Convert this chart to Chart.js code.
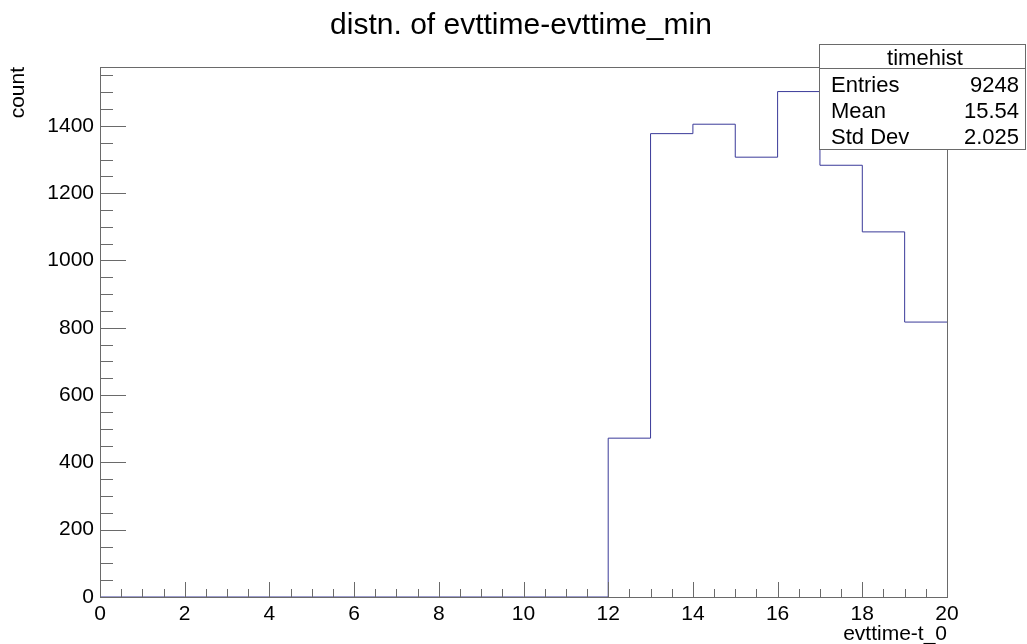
<!DOCTYPE html>
<html lang="en">
<head>
    <meta charset="UTF-8">
    <title>distn. of evttime-evttime_min</title>
    <script src="https://cdn.jsdelivr.net/npm/chart.js"></script>
    <style>
        html, body { margin: 0; padding: 0; background: #fff; }
        #wrap { width: 1027px; height: 644px; }
    </style>
</head>
<body>
    <div id="wrap"><canvas id="timehist" width="1027" height="644"></canvas></div>

    <script>
        // histogram data: bin low edges (width 1) and contents
        const binLow = [0, 1, 2, 3, 4, 5, 6, 7, 8, 9, 10, 11, 12, 13, 14, 15, 16, 17, 18, 19];
        const counts = [0, 0, 0, 0, 0, 0, 0, 0, 0, 0,   // 0-9
                        0, 0, 472, 1377, 1405, 1307, 1502, 1283, 1085, 817];   // 10-19
        const xMax = 20;
        const yMax = 1575;
        const statLabels = ['Entries', 'Mean', 'Std Dev'];
        const statValues = ['9248', '15.54', '2.025'];

        const FONT = '"Liberation Sans", Arial, sans-serif';
        const lineColor = '#3a3a99';

        // stepped outline points: each bin content holds from its low edge to the next edge
        const points = counts.map((c, i) => ({ x: binLow[i], y: c }));
        points.push({ x: xMax, y: counts[counts.length - 1] });

        // ROOT-style frame, inside ticks, title, axis titles and stats box
        const rootDecor = {
            id: 'rootDecor',
            afterDatasetsDraw(chart) {
                const ctx = chart.ctx;
                const a = chart.chartArea;
                const xs = chart.scales.x, ys = chart.scales.y;
                ctx.save();
                ctx.strokeStyle = '#6a6a6a';
                ctx.lineWidth = 1;

                // frame
                ctx.strokeRect(a.left + 0.5, a.top + 0.5, a.right - a.left, a.bottom - a.top);

                // y ticks
                ctx.beginPath();
                for (let v = 0; v <= ys.max; v += 50) {
                    const py = Math.round(ys.getPixelForValue(v)) + 0.5;
                    const len = v % 200 === 0 ? 26 : 13;
                    ctx.moveTo(a.left, py);
                    ctx.lineTo(a.left + len, py);
                }
                // x ticks
                for (let v = 0; v <= xs.max; v += 0.5) {
                    const px = Math.round(xs.getPixelForValue(v)) + 0.5;
                    const len = v % 2 === 0 ? 15 : 8;
                    ctx.moveTo(px, a.bottom);
                    ctx.lineTo(px, a.bottom - len);
                }
                ctx.stroke();

                ctx.fillStyle = '#000';
                ctx.textBaseline = 'alphabetic';
                // title
                ctx.font = '30px ' + FONT;
                ctx.textAlign = 'center';
                ctx.fillText('distn. of evttime-evttime_min', 521, 34);

                // axis titles
                ctx.font = '21px ' + FONT;
                ctx.textAlign = 'right';
                ctx.fillText('evttime-t_0', a.right, 640);
                ctx.save();
                ctx.translate(24, a.top);
                ctx.rotate(-Math.PI / 2);
                ctx.textAlign = 'right';
                ctx.fillText('count', 0, 0);
                ctx.restore();

                // stats box
                const bx = 819, by = 44, bw = 206, bh = 105;
                ctx.fillStyle = '#fff';
                ctx.fillRect(bx, by, bw, bh);
                ctx.strokeRect(bx + 0.5, by + 0.5, bw, bh);
                ctx.beginPath();
                ctx.moveTo(bx, a.top + 1.5);
                ctx.lineTo(bx + bw, a.top + 1.5);
                ctx.stroke();
                ctx.fillStyle = '#000';
                ctx.font = '22px ' + FONT;
                ctx.textAlign = 'center';
                ctx.fillText('timehist', bx + bw / 2 + 3, 65);
                const rowsY = [92, 118, 144];
                statLabels.forEach((l, i) => {
                    ctx.textAlign = 'left';
                    ctx.fillText(l, bx + 12, rowsY[i]);
                    ctx.textAlign = 'right';
                    ctx.fillText(statValues[i], bx + bw - 6, rowsY[i]);
                });
                ctx.restore();
            }
        };

        new Chart(document.getElementById('timehist'), {
            type: 'line',
            data: {
                datasets: [{
                    label: 'timehist',
                    data: points,
                    stepped: 'before',
                    borderColor: lineColor,
                    borderWidth: 1,
                    pointRadius: 0,
                    fill: false
                }]
            },
            options: {
                responsive: false,
                animation: false,
                layout: { padding: { left: 0, top: 67, right: 80, bottom: 0 } },
                plugins: {
                    legend: { display: false },
                    tooltip: { enabled: false },
                    title: { display: false }
                },
                scales: {
                    x: {
                        type: 'linear',
                        min: 0,
                        max: xMax,
                        grid: { display: false, drawTicks: false },
                        border: { display: false },
                        afterFit: s => { s.height = 47; },
                        ticks: {
                            stepSize: 2,
                            padding: 5,
                            color: '#000',
                            font: { family: FONT, size: 21 },
                            maxRotation: 0,
                            autoSkip: false,
                            callback: v => String(v)
                        }
                    },
                    y: {
                        type: 'linear',
                        min: 0,
                        max: yMax,
                        grid: { display: false, drawTicks: false },
                        border: { display: false },
                        afterFit: s => { s.width = 100; },
                        afterBuildTicks: s => { s.ticks = s.ticks.filter(t => t.value % 200 === 0); },
                        ticks: {
                            padding: 6,
                            color: '#000',
                            font: { family: FONT, size: 21 },
                            autoSkip: false,
                            callback: v => String(v)
                        }
                    }
                }
            },
            plugins: [rootDecor]
        });
    </script>
</body>
</html>
